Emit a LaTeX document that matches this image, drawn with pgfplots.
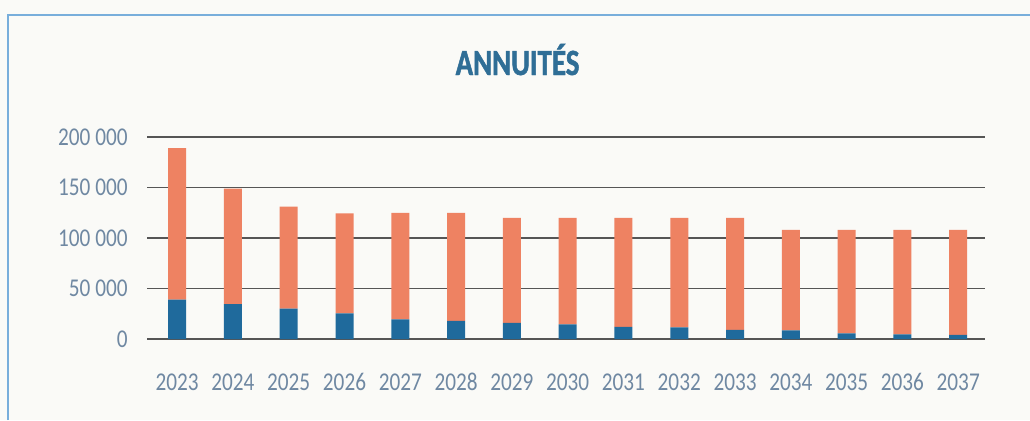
\documentclass[border=0pt]{standalone}
\usepackage{pgfplots}
\pgfplotsset{compat=1.18}
\usepackage{fontspec}
\setmainfont[FakeStretch=0.83]{Carlito}
\newfontfamily\titlefont[FakeStretch=0.78,FakeBold=1.3]{Carlito}
\definecolor{bgc}{HTML}{FAFAF7}
\definecolor{framec}{HTML}{78AEDB}
\definecolor{orangec}{HTML}{EE8262}
\definecolor{bluec}{HTML}{1F6A9C}
\definecolor{titlec}{HTML}{2F6E96}
\definecolor{tickc}{HTML}{6F88A2}
\definecolor{gridc}{HTML}{555555}
\begin{document}
\begin{tikzpicture}
\fill[bgc] (0,0) rectangle (515pt,210pt);
\useasboundingbox (0,0) rectangle (515pt,210pt);
\draw[framec, line width=1pt] (4pt,0) -- (4pt,202.5pt) -- (515pt,202.5pt);
\node[anchor=base, text=titlec, font=\titlefont\bfseries\fontsize{18.5}{22}\selectfont, inner sep=0pt] at (258.75pt,172.5pt) {ANNUITÉS};
\begin{axis}[
  at={(73.5pt,40.5pt)}, anchor=south west,
  scale only axis, width=419pt, height=101pt,
  ybar stacked, bar width=9pt,
  xmin=-0.54, xmax=14.48, ymin=0, ymax=200000,
  xtick={0,...,14},
  xticklabels={2023,2024,2025,2026,2027,2028,2029,2030,2031,2032,2033,2034,2035,2036,2037},
  ytick={0,50000,100000,150000,200000},
  scaled y ticks=false,
  /pgf/number format/.cd, fixed, precision=0, 1000 sep={\ }, assume math mode=true, /pgfplots/.cd,
  yticklabel style={anchor=east, inner sep=0pt, xshift=-9.5pt, text=tickc, font=\fontsize{12.8}{15}\selectfont},
  xticklabel style={anchor=north, inner sep=0pt, yshift=-17pt, text=tickc, font=\fontsize{12.8}{15}\selectfont},
  axis line style={draw=none},
  major tick length=0pt, tick style={draw=none},
  ymajorgrids, major grid style={color=gridc, line width=0.8pt},
]
\addplot[fill=bluec, draw=none] coordinates {
(0,39000) (1,34500) (2,30000) (3,25500) (4,19500) (5,18000) (6,16000) (7,14500)
(8,12000) (9,11500) (10,9000) (11,8500) (12,5500) (13,4500) (14,4000)};
\addplot[fill=orangec, draw=none] coordinates {
(0,150000) (1,114500) (2,101000) (3,99000) (4,105500) (5,107000) (6,104000) (7,105500)
(8,108000) (9,108500) (10,111000) (11,99500) (12,102500) (13,103500) (14,104000)};
\end{axis}
\end{tikzpicture}
\end{document}
